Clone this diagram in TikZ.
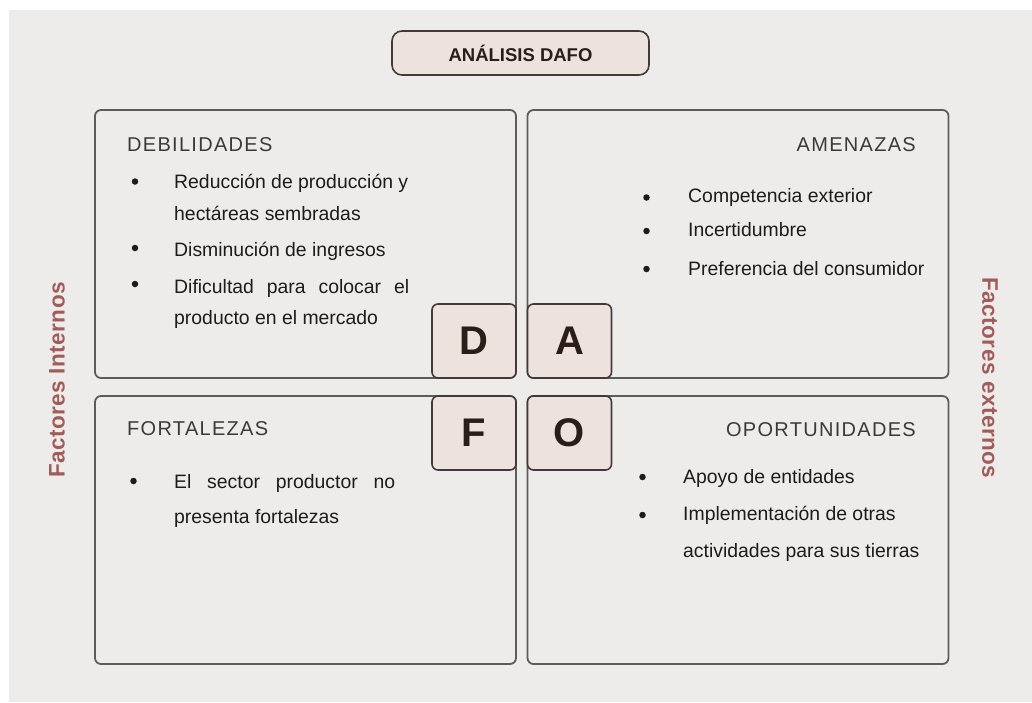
\documentclass[tikz,border=0pt]{standalone}
\usepackage{fontspec}
\setmainfont{Liberation Sans}
\newfontfamily\headfont[LetterSpace=6.5]{Liberation Sans}
\newfontfamily\sidefont[LetterSpace=2]{Liberation Sans}

\definecolor{paper}{RGB}{238,236,234}
\definecolor{frame}{RGB}{92,92,92}
\definecolor{tile}{RGB}{237,226,222}
\definecolor{tileline}{RGB}{66,58,56}
\definecolor{tiletext}{RGB}{43,29,24}
\definecolor{side}{RGB}{160,92,90}
\definecolor{ink}{RGB}{28,28,28}
\definecolor{headgray}{RGB}{58,58,58}

\begin{document}
\begin{tikzpicture}[x=1pt, y=-1pt,
 quad/.style={draw=frame, line width=1.8pt, rounded corners=6pt, minimum width=421pt, minimum height=268pt, inner sep=0pt},
 tile/.style={draw=tileline, fill=tile, line width=1.6pt, rounded corners=6pt, minimum width=84pt, minimum height=74pt, inner sep=0pt, text=tiletext, font=\fontsize{40}{40}\selectfont\bfseries},
 head/.style={inner sep=0pt, text=headgray, font=\headfont\fontsize{20}{24}\selectfont},
 item/.style={anchor=base west, inner sep=0pt, text=ink, font=\fontsize{19.4}{22}\selectfont},
 dot/.style={circle, fill=ink, inner sep=0pt, minimum size=6.5pt},
 sidelbl/.style={inner sep=0pt, text=side, font=\sidefont\fontsize{22.5}{24}\selectfont\bfseries}]

 \useasboundingbox (0,0) rectangle (1032,702);
 \fill[white] (0,0) rectangle (1032,702);
 \fill[paper] (9,10) rectangle (1032,702);

 %%%  nodes

 % title
 \node [tile, minimum width=257pt, minimum height=44pt, rounded corners=10pt, font=\fontsize{18.5}{20}\selectfont\bfseries] (title) at (520.5,53) {ANÁLISIS DAFO};

 % quadrants
 \node [quad] (deb) at (305.5,244) {};
 \node [quad] (ame) at (738,244) {};
 \node [quad] (fort) at (305.5,530) {};
 \node [quad] (opo) at (738,530) {};

 % letter tiles
 \node [tile] (tD) at (474,341) {D};
 \node [tile] (tA) at (569.5,341) {A};
 \node [tile] (tF) at (474,433) {F};
 \node [tile] (tO) at (569.5,433) {O};

 % headings
 \node [head, anchor=base west] (hdeb) at (127,151.5) {DEBILIDADES};
 \node [head, anchor=base east] (hame) at (916,151) {AMENAZAS};
 \node [head, anchor=base west] (hfort) at (127,435.7) {FORTALEZAS};
 \node [head, anchor=base east] (hopo) at (916,436) {OPORTUNIDADES};

 % debilidades
 \node [dot] (d1) at (135,181.5) {};
 \node [item] (d1a) at (174,188) {Reducción de producción y};
 \node [item] (d1b) at (174,220) {hectáreas sembradas};
 \node [dot] (d2) at (135,248) {};
 \node [item] (d2a) at (174,256.5) {Disminución de ingresos};
 \node [dot] (d3) at (135,284) {};
 \node [item] (d3a) at (174,293) {\makebox[235pt][s]{Dificultad para colocar el}};
 \node [item] (d3b) at (174,324.5) {producto en el mercado};

 % amenazas
 \node [dot] (a1) at (646.5,197.5) {};
 \node [item] (a1a) at (688,202.7) {Competencia exterior};
 \node [dot] (a2) at (646.5,231) {};
 \node [item] (a2a) at (688,236.7) {Incertidumbre};
 \node [dot] (a3) at (646.5,269) {};
 \node [item] (a3a) at (688,275) {Preferencia del consumidor};

 % fortalezas
 \node [dot] (f1) at (133.5,481) {};
 \node [item] (f1a) at (174,488.3) {\makebox[221pt][s]{El sector productor no}};
 \node [item] (f1b) at (174,523.3) {presenta fortalezas};

 % oportunidades
 \node [dot] (o1) at (642.5,477) {};
 \node [item] (o1a) at (683,483) {Apoyo de entidades};
 \node [dot] (o2) at (642.5,515) {};
 \node [item] (o2a) at (683,520.7) {Implementación de otras};
 \node [item] (o2b) at (683,557) {actividades para sus tierras};

 % side labels
 \node [sidelbl, rotate=90] (intern) at (57,380) {Factores Internos};
 \node [sidelbl, rotate=-90] (extern) at (990,378) {Factores externos};

\end{tikzpicture}
\end{document}
